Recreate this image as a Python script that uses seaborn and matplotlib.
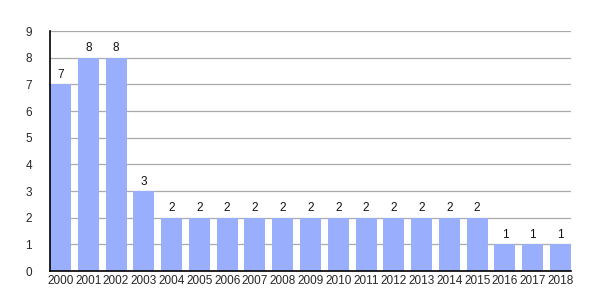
import matplotlib
matplotlib.use("Agg")
import matplotlib.pyplot as plt
import seaborn as sns
import pandas as pd

years = [str(y) for y in range(2000, 2019)]
values = [7, 8, 8, 3, 2, 2, 2, 2, 2, 2, 2, 2, 2, 2, 2, 2, 1, 1, 1]

df = pd.DataFrame({"year": years, "value": values})

sns.set_style("white")
plt.rcParams['font.family'] = ['Liberation Sans', 'DejaVu Sans']

fig = plt.figure(figsize=(6, 3), dpi=100)
ax = fig.add_axes([50/600, 29/300, 521/600, 240/300])

sns.barplot(data=df, x="year", y="value", color="#99aefc", saturation=1,
            width=0.755, ax=ax, zorder=2)
for p in ax.patches:
    p.set_edgecolor("none")

for i, v in enumerate(values):
    ax.text(i, v + 0.12, str(v), ha="center", va="bottom", fontsize=8.5, color="#111111")

ax.set_xlim(-0.3775, 18.3775)
ax.set_ylim(0, 9)
ax.set_yticks(range(0, 10))
ax.yaxis.grid(True, color="#aaaaaa", linewidth=0.9, zorder=0)
ax.set_axisbelow(True)
ax.set_xlabel("")
ax.set_ylabel("")
for s in ["top", "right"]:
    ax.spines[s].set_visible(False)
for s in ["left", "bottom"]:
    ax.spines[s].set_color("black")
    ax.spines[s].set_linewidth(1.2)
ax.tick_params(axis="y", length=5, width=1, color="black", labelsize=8.5, pad=8)
ax.tick_params(axis="x", length=0, labelsize=8.5, pad=3)

fig.savefig("out.png", dpi=100)
